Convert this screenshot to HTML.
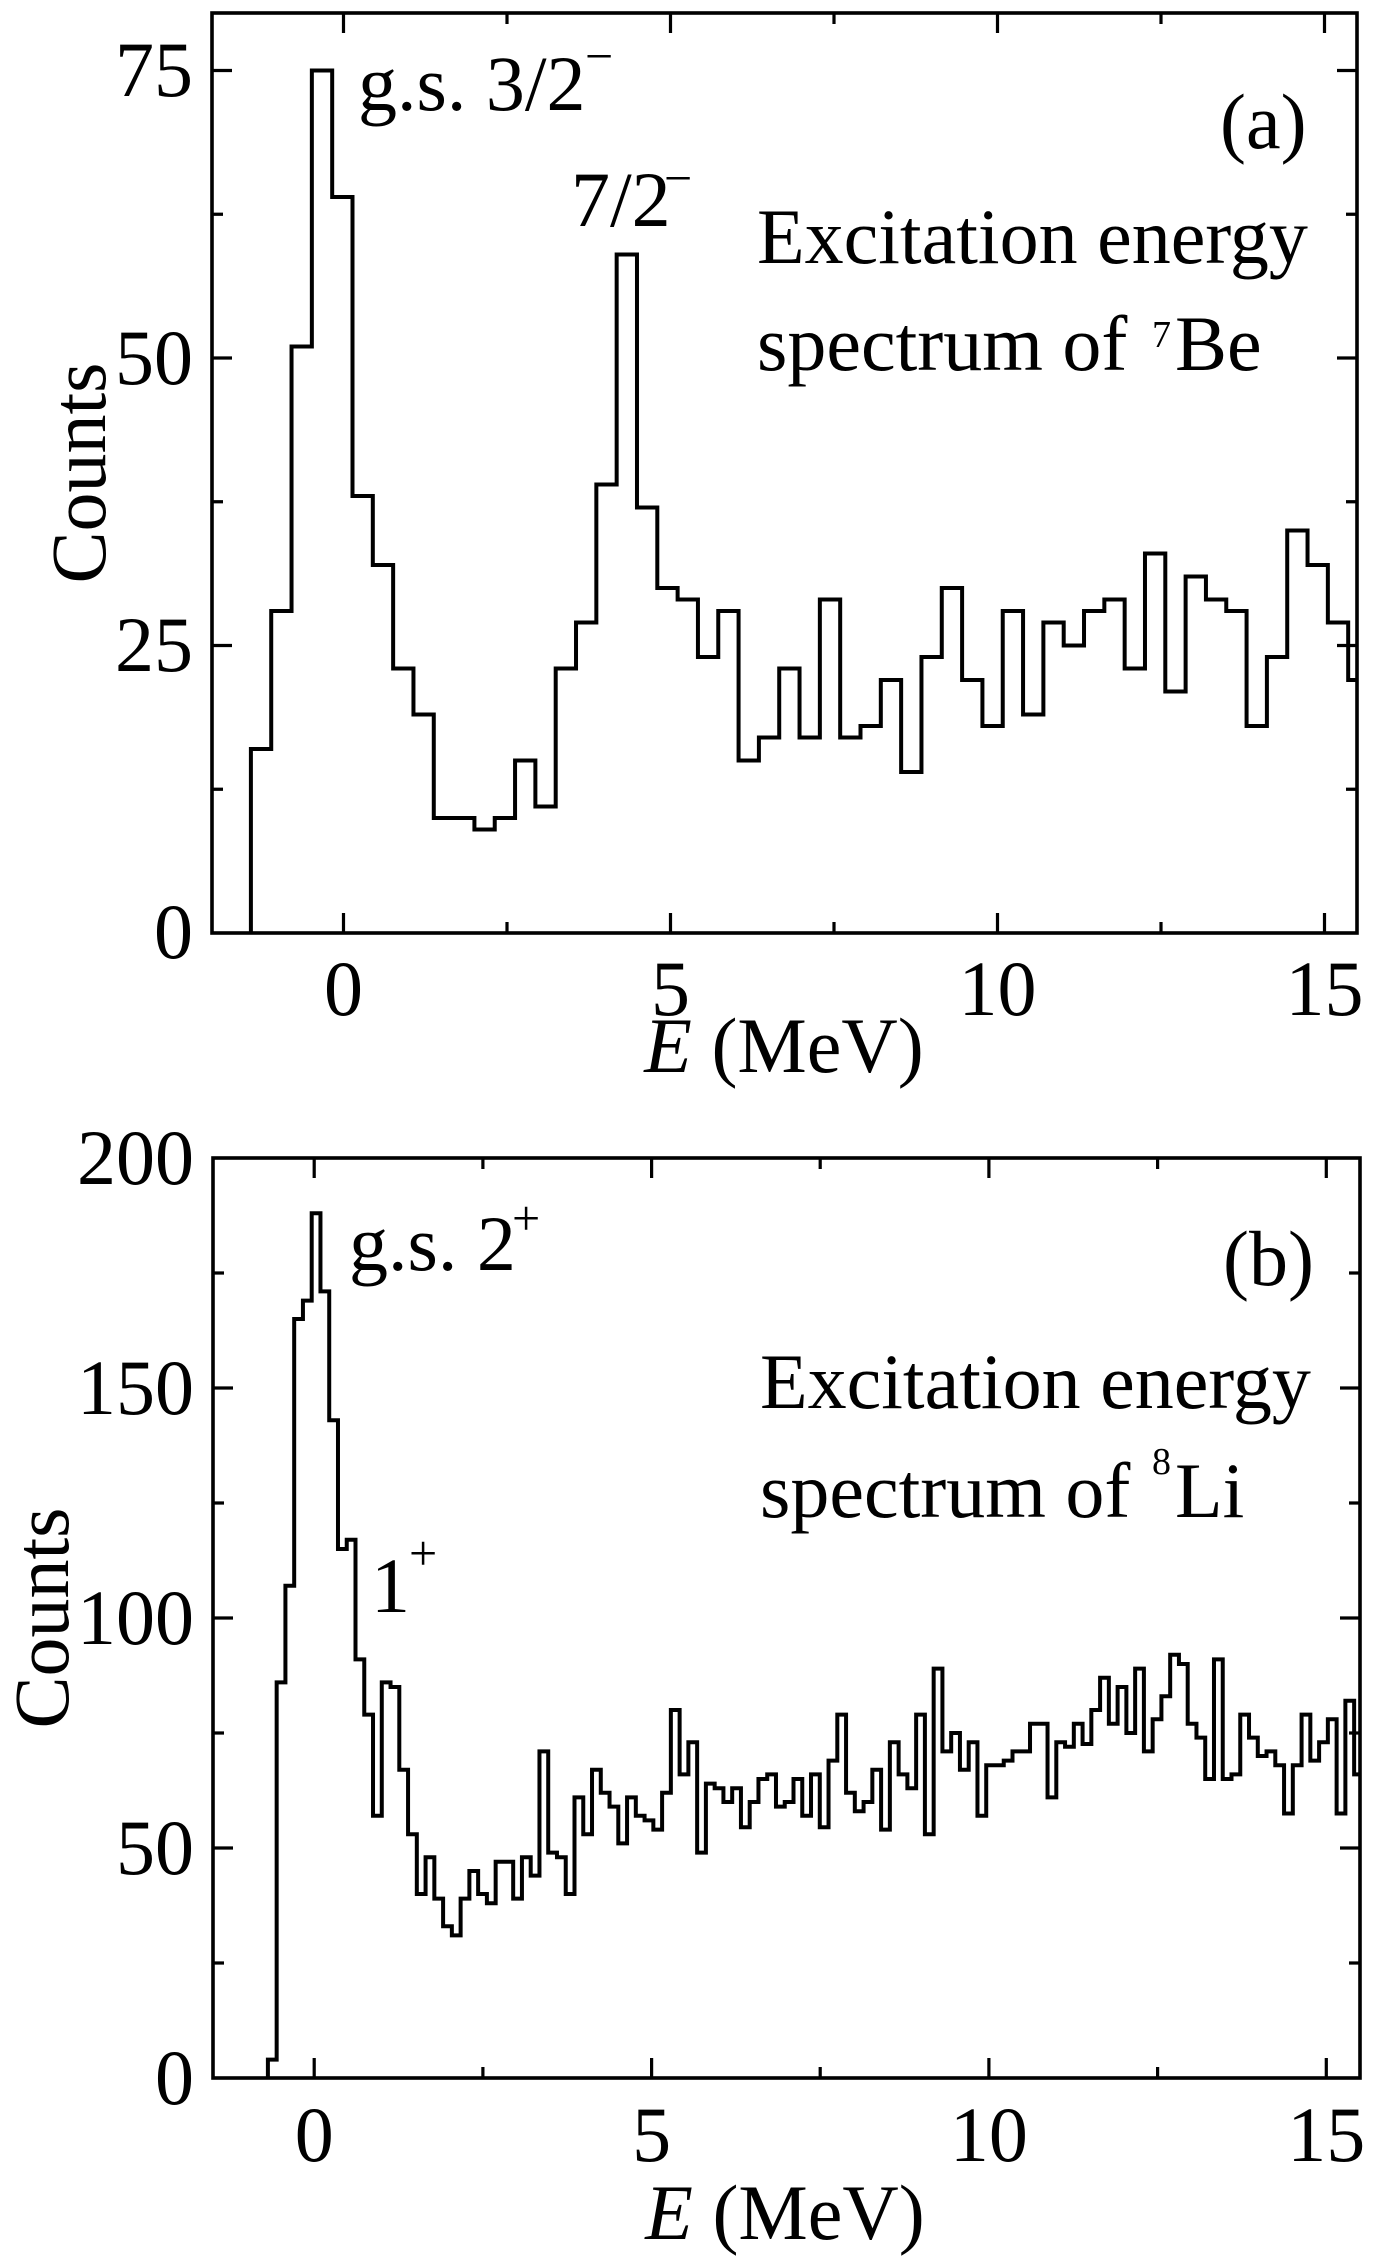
<!DOCTYPE html>
<html>
<head>
<meta charset="utf-8">
<style>
  html,body{margin:0;padding:0;background:#fff;}
  svg{display:block;}
  text{font-family:"Liberation Serif","Times New Roman",serif;fill:#000;}
</style>
</head>
<body>
<svg width="1373" height="2264" viewBox="0 0 1373 2264" xmlns="http://www.w3.org/2000/svg">
  <rect x="0" y="0" width="1373" height="2264" fill="#fff"/>

  <!-- ================= PANEL (a) ================= -->
  <g transform="translate(250.9,933) scale(20.32,-11.5)">
    <path fill="none" stroke="#000" stroke-width="4" vector-effect="non-scaling-stroke" stroke-linejoin="miter"
      d="M0 0 V16 H1 V28 H2 V51 H3 V75 H4 V64 H5 V38 H6 V32 H7 V23 H8 V19 H9 V10 H10 V10 H11 V9 H12 V10 H13 V15 H14 V11 H15 V23 H16 V27 H17 V39 H18 V59 H19 V37 H20 V30 H21 V29 H22 V24 H23 V28 H24 V15 H25 V17 H26 V23 H27 V17 H28 V29 H29 V17 H30 V18 H31 V22 H32 V14 H33 V24 H34 V30 H35 V22 H36 V18 H37 V28 H38 V19 H39 V27 H40 V25 H41 V28 H42 V29 H43 V23 H44 V33 H45 V21 H46 V31 H47 V29 H48 V28 H49 V18 H50 V24 H51 V35 H52 V32 H53 V27 H54 V22 H54.43"/>
  </g>
  <rect x="212" y="13" width="1145" height="920" fill="none" stroke="#000" stroke-width="3.6"/>
  <path fill="none" stroke="#000" stroke-width="3.2"
    d="M343.5 13 v20 M670.5 13 v20 M997.5 13 v20 M1324.5 13 v20 M507 13 v11 M834 13 v11 M1161 13 v11
       M343.5 933 v-20 M670.5 933 v-20 M997.5 933 v-20 M1324.5 933 v-20 M507 933 v-11 M834 933 v-11 M1161 933 v-11
       M212 645.5 h20 M212 358 h20 M212 70.5 h20 M212 789.25 h11 M212 501.75 h11 M212 214.25 h11
       M1357 645.5 h-20 M1357 358 h-20 M1357 70.5 h-20 M1357 789.25 h-11 M1357 501.75 h-11 M1357 214.25 h-11"/>
  <g font-size="78" text-anchor="end">
    <text x="193" y="958">0</text>
    <text x="193" y="671">25</text>
    <text x="193" y="384">50</text>
    <text x="193" y="96">75</text>
  </g>
  <g font-size="78" text-anchor="middle">
    <text x="343.5" y="1015">0</text>
    <text x="670.5" y="1015">5</text>
    <text x="997.5" y="1015">10</text>
    <text x="1324.5" y="1015">15</text>
  </g>
  <text font-size="78" text-anchor="middle" transform="translate(105,473) rotate(-90)">Counts</text>
  <text font-size="78" text-anchor="middle" x="784" y="1072"><tspan font-style="italic">E</tspan> (MeV)</text>
  <text font-size="78" x="358" y="110">g.s. 3/2</text>
  <text font-size="50" x="585" y="73">−</text>
  <text font-size="78" x="571" y="226">7/2</text>
  <text font-size="50" x="664" y="195">−</text>
  <text font-size="78" x="1220" y="148">(a)</text>
  <text font-size="78" x="757" y="263">Excitation energy</text>
  <text font-size="78" x="757" y="370">spectrum of</text>
  <text font-size="38" x="1152" y="347">7</text>
  <text font-size="78" x="1175" y="370">Be</text>

  <!-- ================= PANEL (b) ================= -->
  <g transform="translate(267.9,2078) scale(8.76,-4.6)">
    <path fill="none" stroke="#000" stroke-width="4" vector-effect="non-scaling-stroke" stroke-linejoin="miter"
      d="M0 0 V4 H1 V86 H2 V107 H3 V165 H4 V169 H5 V188 H6 V171 H7 V143 H8 V115 H9 V117 H10 V91 H11 V79 H12 V57 H13 V86 H14 V85 H15 V67 H16 V53 H17 V40 H18 V48 H19 V39 H20 V33 H21 V31 H22 V39 H23 V45 H24 V40 H25 V38 H26 V47 H27 V47 H28 V39 H29 V48 H30 V44 H31 V71 H32 V49 H33 V48 H34 V40 H35 V61 H36 V53 H37 V67 H38 V62 H39 V59 H40 V51 H41 V61 H42 V57 H43 V56 H44 V54 H45 V62 H46 V80 H47 V66 H48 V73 H49 V49 H50 V64 H51 V63 H52 V60 H53 V63 H54 V54.5 H55 V60 H56 V65 H57 V66 H58 V59 H59 V60 H60 V65 H61 V57 H62 V66 H63 V54.5 H64 V69 H65 V79 H66 V62 H67 V58 H68 V60 H69 V67 H70 V54 H71 V73 H72 V66 H73 V63 H74 V79 H75 V53 H76 V89 H77 V71 H78 V75 H79 V67 H80 V73 H81 V57 H82 V68 H83 V68 H84 V69 H85 V71 H86 V71 H87 V77 H88 V77 H89 V61 H90 V73 H91 V72 H92 V77 H93 V72.6 H94 V80 H95 V87 H96 V77 H97 V85 H98 V75 H99 V89 H100 V71 H101 V78 H102 V83 H103 V92 H104 V90 H105 V77 H106 V74 H107 V65 H108 V91 H109 V65 H110 V66 H111 V79 H112 V74 H113 V70 H114 V71 H115 V68 H116 V57.5 H117 V68 H118 V79 H119 V69 H120 V73 H121 V78 H122 V57.5 H123 V82 H124 V66 H124.67"/>
  </g>
  <rect x="213" y="1158" width="1147" height="920" fill="none" stroke="#000" stroke-width="3.6"/>
  <path fill="none" stroke="#000" stroke-width="3.2"
    d="M314.2 1158 v20 M651.6 1158 v20 M988.9 1158 v20 M1326.3 1158 v20 M482.9 1158 v11 M820.2 1158 v11 M1157.6 1158 v11
       M314.2 2078 v-20 M651.6 2078 v-20 M988.9 2078 v-20 M1326.3 2078 v-20 M482.9 2078 v-11 M820.2 2078 v-11 M1157.6 2078 v-11
       M213 1848 h20 M213 1618 h20 M213 1388 h20 M213 1963 h11 M213 1733 h11 M213 1503 h11 M213 1273 h11
       M1360 1848 h-20 M1360 1618 h-20 M1360 1388 h-20 M1360 1963 h-11 M1360 1733 h-11 M1360 1503 h-11 M1360 1273 h-11"/>
  <g font-size="78" text-anchor="end">
    <text x="194" y="2104">0</text>
    <text x="194" y="1874">50</text>
    <text x="194" y="1644">100</text>
    <text x="194" y="1414">150</text>
    <text x="194" y="1184">200</text>
  </g>
  <g font-size="78" text-anchor="middle">
    <text x="314.2" y="2161">0</text>
    <text x="651.6" y="2161">5</text>
    <text x="988.9" y="2161">10</text>
    <text x="1326.3" y="2161">15</text>
  </g>
  <text font-size="78" text-anchor="middle" transform="translate(68,1618) rotate(-90)">Counts</text>
  <text font-size="78" text-anchor="middle" x="785" y="2239"><tspan font-style="italic">E</tspan> (MeV)</text>
  <text font-size="78" x="349" y="1270">g.s. 2</text>
  <text font-size="50" x="512" y="1235">+</text>
  <text font-size="78" x="371" y="1612">1</text>
  <text font-size="50" x="409" y="1570">+</text>
  <text font-size="78" x="1223" y="1285">(b)</text>
  <text font-size="78" x="760" y="1408">Excitation energy</text>
  <text font-size="78" x="760" y="1517">spectrum of</text>
  <text font-size="38" x="1152" y="1474">8</text>
  <text font-size="78" x="1175" y="1517">Li</text>
</svg>
</body>
</html>
